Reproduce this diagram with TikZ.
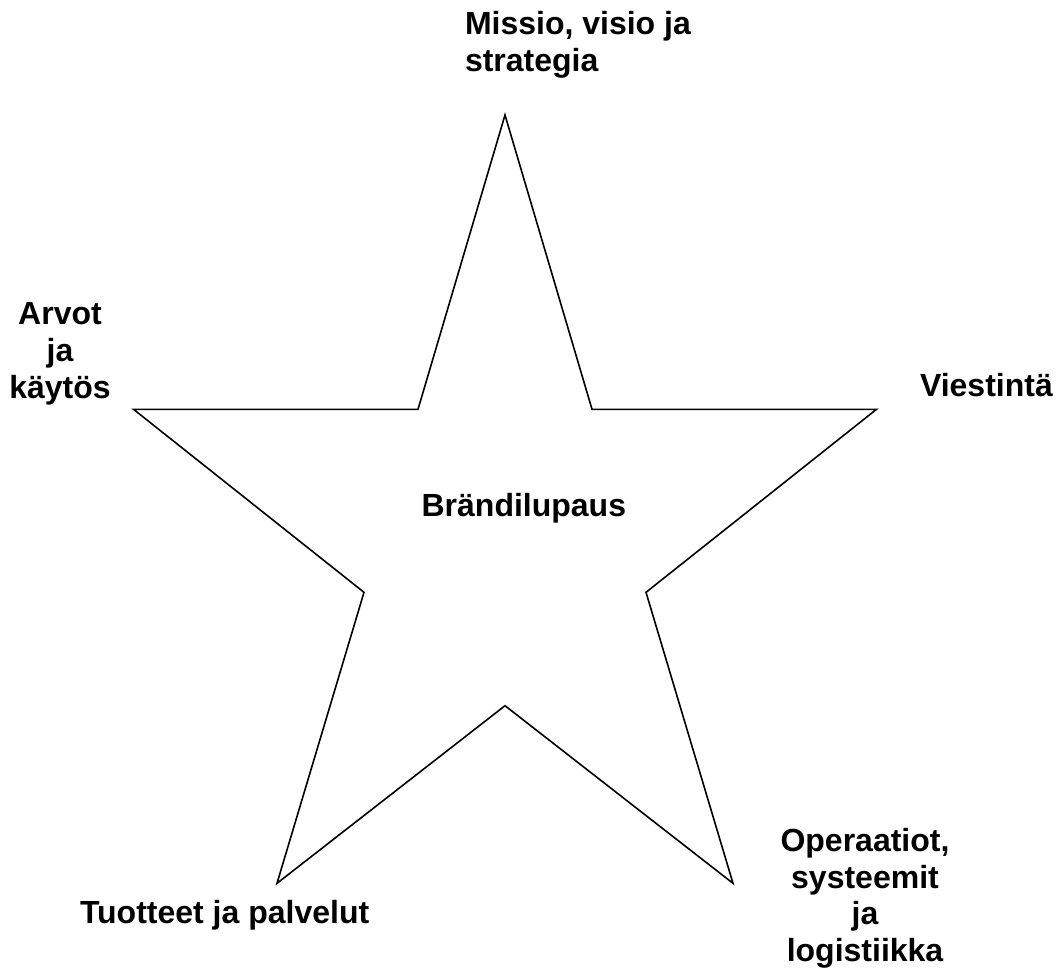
\documentclass[tikz,border=0pt]{standalone}
\usepackage{fontspec}
\setmainfont{Liberation Sans}
\begin{document}
\begin{tikzpicture}[x=1pt,y=-1pt,
  lbl/.style={inner sep=0pt,outer sep=0pt,font=\fontsize{32}{36.8}\selectfont\bfseries},
  starline/.style={draw=black,line width=1.6pt,line join=miter}]
\useasboundingbox (0,0) rectangle (1062,970);
\coordinate (t) at (505,115);
\coordinate (iul) at (418,409.3);
\coordinate (l) at (133.5,409.3);
\coordinate (il) at (364,592.3);
\coordinate (bl) at (277,883.3);
\coordinate (ib) at (505,705.7);
\coordinate (br) at (733,883.3);
\coordinate (ir) at (646,592.3);
\coordinate (r) at (876.5,409.3);
\coordinate (iur) at (592,409.3);
\draw[starline] (t) -- (iul) -- (l) -- (il) -- (bl) -- (ib) -- (br) -- (ir) -- (r) -- (iur) -- cycle;
\node[lbl,anchor=base west,align=left] (mission) at (465,71.5) {Missio, visio ja\\strategia};
\node[lbl,anchor=base,align=center] (values) at (60,398) {Arvot\\ja\\käytös};
\node[lbl,anchor=base west] (comm) at (920,396) {Viestintä};
\node[lbl,anchor=base west] (promise) at (421.6,516.7) {Brändilupaus};
\node[lbl,anchor=base west] (products) at (80,923.3) {Tuotteet ja palvelut};
\node[lbl,anchor=base,align=center] (ops) at (865,961.7) {Operaatiot,\\systeemit\\ja\\logistiikka};
\end{tikzpicture}
\end{document}
